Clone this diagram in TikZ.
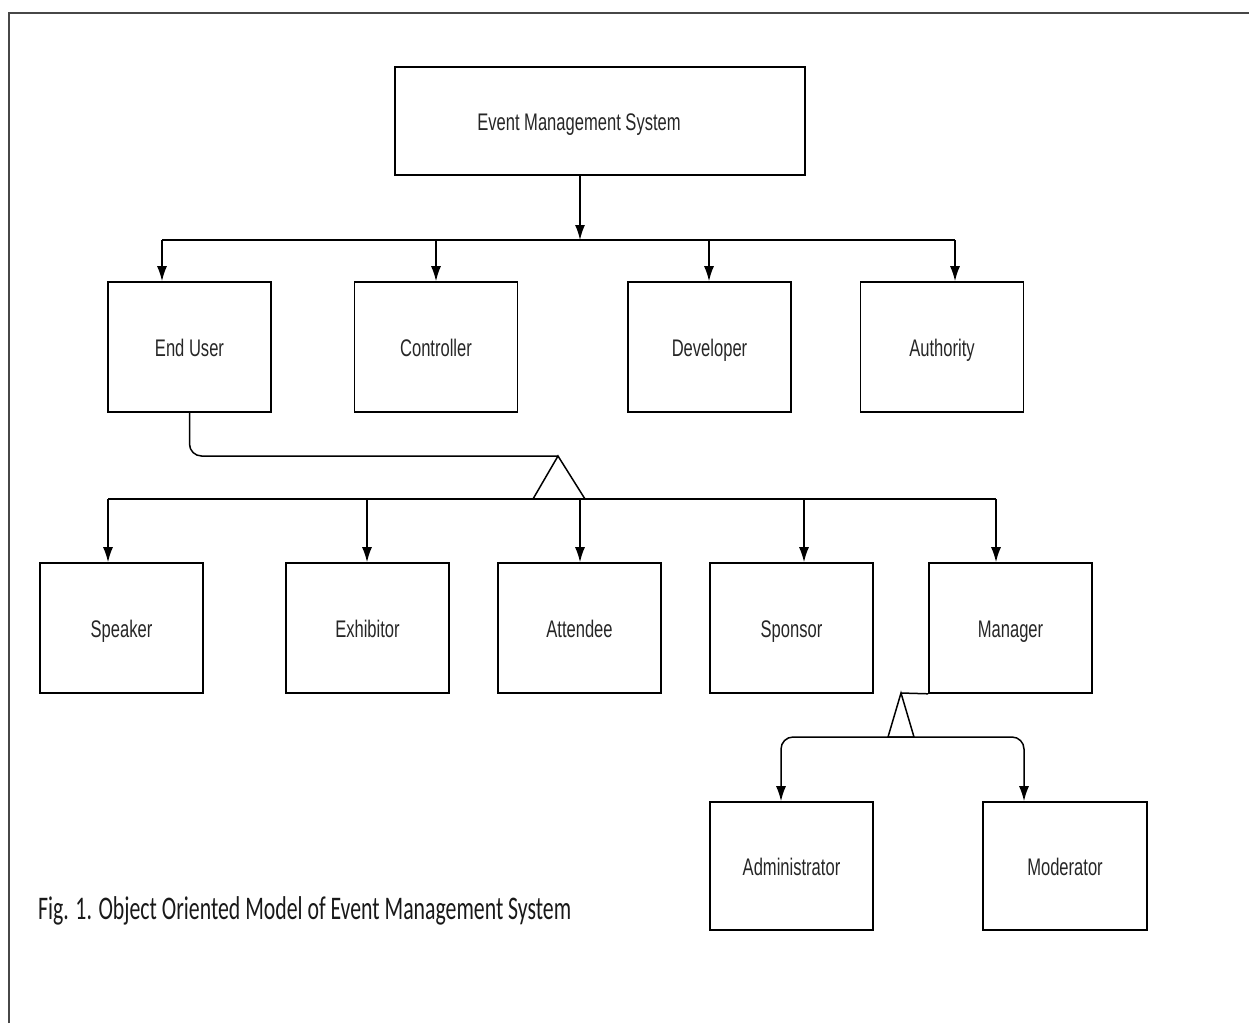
\documentclass[tikz,border=0pt]{standalone}
\usepackage{fontspec}
\usetikzlibrary{arrows.meta}
\newfontfamily\boxfont[FakeStretch=0.69]{Liberation Sans}
\newfontfamily\capfont[FakeStretch=0.66]{Carlito}
\begin{document}
\begin{tikzpicture}[x=1pt,y=-1pt,
  lbl/.style={font=\boxfont\fontsize{24}{28}\selectfont, text=black!85, text height=18pt, text depth=0pt},
  box/.style={draw=black, line width=1.6pt, minimum width=163pt, minimum height=130pt, inner sep=0pt, lbl},
  arr/.style={line width=1.5pt, -{Latex[length=15pt,width=10pt]}},
  ln/.style={line width=1.5pt}]
\useasboundingbox (0,0) rectangle (1249,1023);
% frame
\draw[line width=2.8pt, black!72, line join=miter] (9,1023) -- (9,13) -- (1249,13);

% top
\node[box, minimum width=410pt, minimum height=108pt,
  label={[lbl, inner sep=0pt, xshift=-21pt]center:Event Management System}] (ems) at (600,121) {};

% row 1
\node[box] (eu)   at (189.5,347) {End User};
\node[box] (ctrl) at (436,347)   {Controller};
\node[box] (dev)  at (709.5,347) {Developer};
\node[box] (auth) at (942,347)   {Authority};

% row 2
\node[box] (spk) at (121.5,628)  {Speaker};
\node[box] (exh) at (367.5,628)  {Exhibitor};
\node[box] (att) at (579.5,628)  {Attendee};
\node[box] (spo) at (791.5,628)  {Sponsor};
\node[box] (man) at (1010.5,628) {Manager};

% row 3
\node[box, minimum height=128pt] (adm) at (791.5,866) {Administrator};
\node[box, minimum height=128pt, minimum width=164pt] (mod) at (1065,866) {Moderator};

% bus 1
\coordinate (b0) at (580,240);
\coordinate (k1) at (162,240);
\coordinate (k2) at (436,240);
\coordinate (k3) at (709,240);
\coordinate (k4) at (955,240);
\draw[arr] (ems.south -| b0) -- (b0);
\draw[ln] (k1) -- (k4);
\draw[arr] (k1) -- (k1 |- eu.north);
\draw[arr] (k2) -- (k2 |- ctrl.north);
\draw[arr] (k3) -- (k3 |- dev.north);
\draw[arr] (k4) -- (k4 |- auth.north);

% generalisation 1
\coordinate (t1) at (558,456);
\coordinate (t1l) at (533,499);
\coordinate (t1r) at (585,499);
\draw[ln, rounded corners=12pt] (eu.south) |- (t1);
\draw[ln, line join=miter] (t1) -- (t1l) -- (t1r) -- cycle;
\coordinate (m1) at (108,499);
\coordinate (m2) at (367,499);
\coordinate (m3) at (580,499);
\coordinate (m4) at (804,499);
\coordinate (m5) at (996,499);
\draw[ln] (m1) -- (m5);
\draw[arr] (m1) -- (m1 |- spk.north);
\draw[arr] (m2) -- (m2 |- exh.north);
\draw[arr] (m3) -- (m3 |- att.north);
\draw[arr] (m4) -- (m4 |- spo.north);
\draw[arr] (m5) -- (m5 |- man.north);

% generalisation 2
\coordinate (t2) at (901,693);
\coordinate (t2l) at (888,737);
\coordinate (t2r) at (914,737);
\coordinate (c3) at (901,737);
\coordinate (a1) at (781,737);
\coordinate (a2) at (1024,737);
\draw[ln] (man.south west) -- (t2);
\draw[ln, line join=miter] (t2) -- (t2l) -- (t2r) -- cycle;
\draw[arr, rounded corners=12pt] (c3) -| (a1 |- adm.north);
\draw[arr, rounded corners=12pt] (c3) -| (a2 |- mod.north);

% caption
\node[anchor=base west, inner sep=0pt, font=\capfont\fontsize{33}{38}\selectfont, text=black!90] (cap) at (38,919)
  {Fig. 1. Object Oriented Model of Event Management System};
\end{tikzpicture}
\end{document}
